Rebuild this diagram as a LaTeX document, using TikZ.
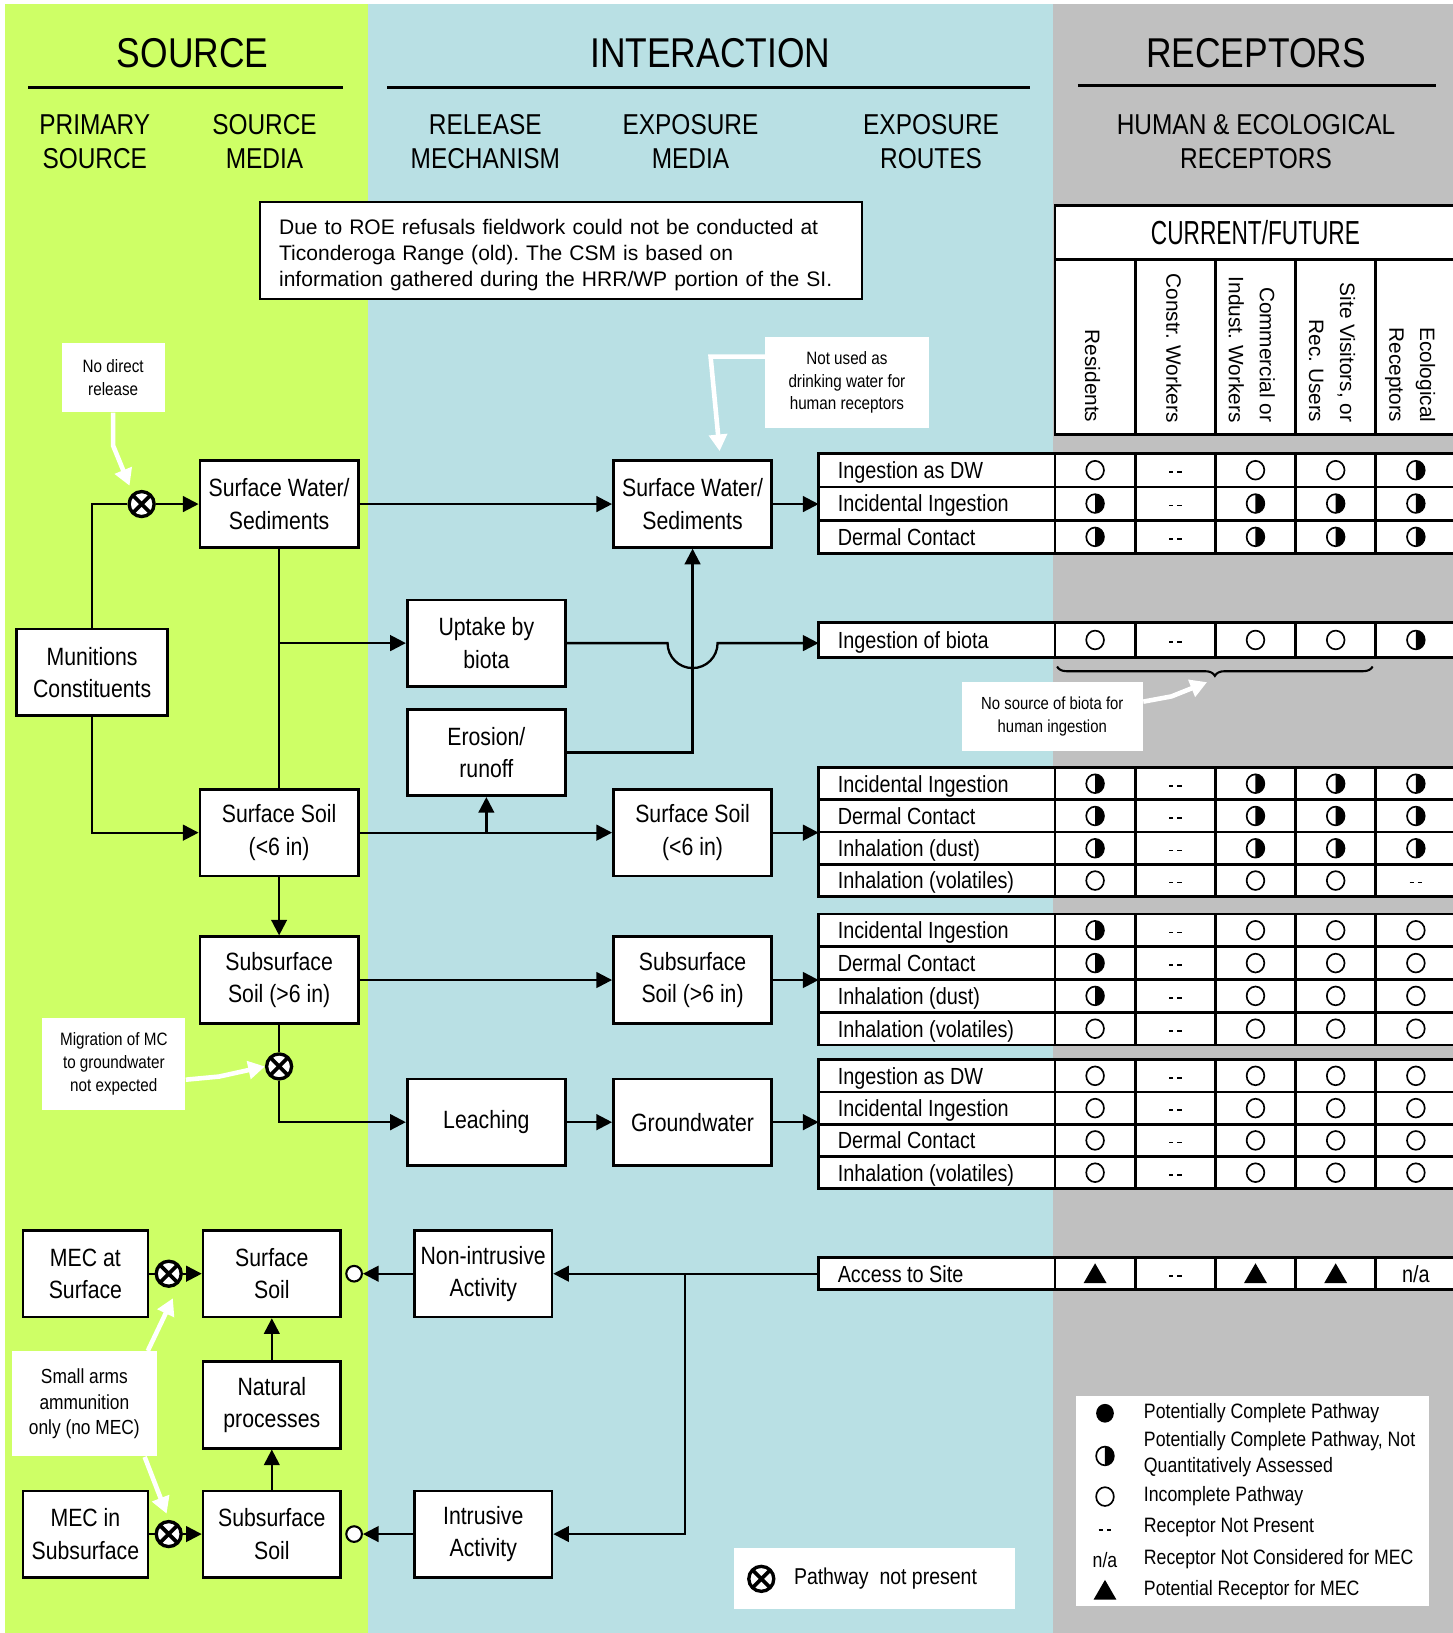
\documentclass[tikz,border=0pt]{standalone}
\usepackage{fontspec}
\setmainfont[FakeStretch=0.85]{Liberation Sans}
\newfontfamily\plainsans{Liberation Sans}
\newfontfamily\tightsans[FakeStretch=0.68]{Liberation Sans}
\usepackage{tikz}
\usetikzlibrary{arrows.meta, positioning, decorations.pathreplacing}
\frenchspacing

\definecolor{srcgreen}{RGB}{206,255,102}
\definecolor{intblue}{RGB}{185,224,228}
\definecolor{recgray}{RGB}{192,192,192}

\newcommand\fHead{\fontsize{20}{24}\selectfont}
\newcommand\fSub{\fontsize{13.8}{16.5}\selectfont}
\newcommand\fBox{\fontsize{12}{15.5}\selectfont}
\newcommand\fRow{\fontsize{11.2}{13}\selectfont}
\newcommand\fNote{\fontsize{8.6}{10.9}\selectfont}
\newcommand\fSmall{\fontsize{9.8}{12.2}\selectfont}
\newcommand\fLeg{\fontsize{10}{12.5}\selectfont}

% symbol in a receptor cell: o open, f full, h half, t triangle, n none, a n/a
\newcommand\cellsym[3]{%
  \if#3o\draw[line width=0.8pt] (#1,#2) ellipse [x radius=8.5, y radius=9];\fi
  \if#3f\fill (#1,#2) ellipse [x radius=8.5, y radius=9];\fi
  \if#3h\fill (#1,#2+9) arc [start angle=90, end angle=-90, x radius=8.5, y radius=9] -- cycle;
    \draw[line width=0.8pt] (#1,#2) ellipse [x radius=8.5, y radius=9];\fi
  \if#3t\fill (#1-11,#2+9) -- (#1+11,#2+9) -- (#1,#2-10) -- cycle;\fi
  \if#3n\draw[line width=0.8pt] (#1-6,#2+2) -- (#1-2,#2+2) (#1+2,#2+2) -- (#1+6,#2+2);\fi
  \if#3a\node[font=\fRow] (nacell) at (#1,#2) {n/a};\fi}

% one exposure route row: centre y, height, label, five receptors
\newcommand\routerow[8]{%
  \draw[tcell] (786,#1-#2/2) rectangle (1013,#1+#2/2);
  \node[routetxt] (rowlabel) at (804,#1+8) {#3};
  \foreach \v [count=\i] in {#4,#5,#6,#7,#8}{
    \draw[tcell] (936+77*\i,#1-#2/2) rectangle ++(77,#2);
    \cellsym{974.5+77*\i}{#1}{\v}
  }}

\begin{document}
\begin{tikzpicture}[x=0.5pt, y=-0.5pt,
    medbox/.style={draw, line width=1.3pt, fill=white, minimum width=76pt,
      minimum height=41.5pt, align=center, inner sep=1pt, font=\fBox},
    remark/.style={fill=white, align=center, inner sep=1pt, font=\fNote},
    xcirc/.style={circle, draw, line width=1.6pt, fill=white, minimum size=12pt,
      inner sep=0pt, path picture={
        \draw[line width=1.8pt] (path picture bounding box.north west) -- (path picture bounding box.south east)
          (path picture bounding box.north east) -- (path picture bounding box.south west);}},
    opc/.style={circle, draw, line width=1pt, fill=white, minimum size=7.5pt, inner sep=0pt},
    pipe/.style={line width=1.1pt},
    flow/.style={line width=1.1pt, -{Triangle[length=7.5pt,width=7.5pt]}},
    warr/.style={draw=white, line width=2.2pt, -{Triangle[length=8pt,width=8.5pt]}},
    tcell/.style={draw, line width=1.3pt, fill=white},
    routetxt/.style={anchor=base west, inner sep=0pt, font=\fRow},
    hline/.style={line width=1.3pt},
    colhead/.style={rotate=-90, anchor=east, inner sep=0pt, align=right,
      font=\plainsans\fontsize{10}{14.8}\selectfont},
    legtxt/.style={anchor=west, inner sep=0pt, font=\fLeg, align=left}]

    \useasboundingbox (0,0) rectangle (1395,1568);

    % bands
    \fill[srcgreen] (5,4) rectangle (353,1570);
    \fill[intblue] (353,4) rectangle (1011,1570);
    \fill[recgray] (1011,4) rectangle (1397,1570);

    % headings
    \node[font=\fHead] (hsrc) at (185,51) {SOURCE};
    \node[font=\fHead] (hint) at (682,51) {INTERACTION};
    \node[font=\fHead] (hrec) at (1206,51) {RECEPTORS};
    \draw[hline] (27,84) -- (329,84);
    \draw[hline] (372,84) -- (989,84);
    \draw[hline] (1035,82) -- (1379,82);
    \node[font=\fSub, align=center] (hprim) at (91,136) {PRIMARY\\SOURCE};
    \node[font=\fSub, align=center] (hmed) at (254,136) {SOURCE\\MEDIA};
    \node[font=\fSub, align=center] (hrel) at (466,136) {RELEASE\\MECHANISM};
    \node[font=\fSub, align=center] (hexm) at (663,136) {EXPOSURE\\MEDIA};
    \node[font=\fSub, align=center] (hexr) at (894,136) {EXPOSURE\\ROUTES};
    \node[font=\fSub, align=center] (hhum) at (1206,136) {HUMAN \& ECOLOGICAL\\RECEPTORS};

    % site note
    \node[draw, line width=1pt, fill=white, text width=271pt, inner xsep=9pt,
      minimum height=46.5pt, align=left, font=\plainsans\fontsize{10.1}{12.5}\selectfont]
      (roe) at (539,240.5) {\rule{0pt}{11.5pt}Due to ROE refusals fieldwork could not be conducted at\\
      Ticonderoga Range (old). The CSM is based on\\
      information gathered during the HRR/WP portion of the SI.};

    % receptor table head
    \node[draw, line width=1.3pt, fill=white, minimum width=192.5pt, minimum height=26pt,
      font=\tightsans\fontsize{16}{18}\selectfont] (cf) at (1205.5,223) {CURRENT/FUTURE};
    \draw[tcell] (1013,249) rectangle (1398,417);
    \foreach \cx in {1090,1167,1244,1321}
      \draw[hline] (\cx,249) -- (\cx,417);
    \node[colhead] (cres) at (1049,406) {Residents};
    \node[colhead] (ccon) at (1127,406) {Constr. Workers};
    \node[colhead] (ccom) at (1202,406) {Commercial or\\Indust. Workers};
    \node[colhead] (csit) at (1279,406) {Site Visitors, or\\Rec. Users};
    \node[colhead] (ceco) at (1354,406) {Ecological\\Receptors};

    % primary source and source media
    \node[medbox, minimum width=72.5pt] (mc) at (88.5,645.5) {Munitions\\Constituents};
    \node[medbox] (sws1) at (268,484) {Surface Water/\\Sediments};
    \node[medbox] (ss1) at (268,799.5) {Surface Soil\\(<6 in)};
    \node[medbox] (subs1) at (268,941) {Subsurface\\Soil (>6 in)};
    \node[xcirc] (x1) at (136,484) {};
    \node[xcirc] (x2) at (268,1024) {};

    % release mechanisms
    \node[medbox] (uptake) at (467,617.5) {Uptake by\\biota};
    \node[medbox] (erosion) at (467,722.5) {Erosion/\\runoff};
    \node[medbox] (leach) at (467,1077.5) {Leaching};

    % exposure media
    \node[medbox] (sws2) at (665,484) {Surface Water/\\Sediments};
    \node[medbox] (ss2) at (665,799.5) {Surface Soil\\(<6 in)};
    \node[medbox] (subs2) at (665,941) {Subsurface\\Soil (>6 in)};
    \node[medbox] (gw) at (665,1077.5) {Groundwater};

    % MEC part
    \node[medbox, minimum width=60pt] (mecs) at (82,1223) {MEC at\\Surface};
    \node[xcirc] (x3) at (162,1223) {};
    \node[medbox, minimum width=66pt] (ss3) at (261,1223) {Surface\\Soil};
    \node[medbox, minimum width=66pt] (nat) at (261,1349) {Natural\\processes};
    \node[medbox, minimum width=60pt] (mecsub) at (82,1473) {MEC in\\Subsurface};
    \node[xcirc] (x4) at (162,1473) {};
    \node[medbox, minimum width=66pt] (subs3) at (261,1473) {Subsurface\\Soil};
    \node[opc] (oc1) at (340,1223) {};
    \node[opc] (oc2) at (340,1473) {};
    \node[medbox, minimum width=66pt] (nonint) at (464,1223) {Non-intrusive\\Activity};
    \node[medbox, minimum width=66pt] (intr) at (464,1473) {Intrusive\\Activity};

    % route entries
    \coordinate (swin) at (786,484);
    \coordinate (biotain) at (786,617.5);
    \coordinate (ssin) at (786,799.5);
    \coordinate (subin) at (786,941);
    \coordinate (gwin) at (786,1077.5);
    \coordinate (accessin) at (786,1223);
    \coordinate (split) at (658,1223);
    \coordinate (bracetip) at (1159,655);

    % routes and receptors
    \routerow{451.5}{32}{Ingestion as DW}{o}{n}{o}{o}{h}
    \routerow{483.5}{32}{Incidental Ingestion}{h}{n}{h}{h}{h}
    \routerow{515.5}{32}{Dermal Contact}{h}{n}{h}{h}{h}
    \routerow{614.5}{33}{Ingestion of biota}{o}{n}{o}{o}{h}
    \routerow{752.5}{31}{Incidental Ingestion}{h}{n}{h}{h}{h}
    \routerow{783.5}{31}{Dermal Contact}{h}{n}{h}{h}{h}
    \routerow{814.5}{31}{Inhalation (dust)}{h}{n}{h}{h}{h}
    \routerow{845.5}{31}{Inhalation (volatiles)}{o}{n}{o}{o}{n}
    \routerow{893.25}{31.5}{Incidental Ingestion}{h}{n}{o}{o}{o}
    \routerow{924.75}{31.5}{Dermal Contact}{h}{n}{o}{o}{o}
    \routerow{956.25}{31.5}{Inhalation (dust)}{h}{n}{o}{o}{o}
    \routerow{987.75}{31.5}{Inhalation (volatiles)}{o}{n}{o}{o}{o}
    \routerow{1033}{31}{Ingestion as DW}{o}{n}{o}{o}{o}
    \routerow{1064}{31}{Incidental Ingestion}{o}{n}{o}{o}{o}
    \routerow{1095}{31}{Dermal Contact}{o}{n}{o}{o}{o}
    \routerow{1126}{31}{Inhalation (volatiles)}{o}{n}{o}{o}{o}
    \routerow{1223}{30.5}{Access to Site}{t}{n}{t}{t}{a}

    % brace under biota row
    \draw[line width=1pt, decorate, decoration={brace, mirror, amplitude=4.5pt}] (1015,640) -- (1318,640);

    % source to media
    \draw[pipe] (mc.north) |- (x1.west);
    \draw[flow] (x1.east) -- (sws1.west);
    \draw[flow] (mc.south) |- (ss1.west);
    \draw[pipe] (sws1.south) -- (ss1.north);
    \draw[flow] (sws1.south |- uptake.west) -- (uptake.west);
    \draw[flow] (ss1.south) -- (subs1.north);
    \draw[pipe] (subs1.south) -- (x2.north);
    \draw[flow] (x2.south) |- (leach.west);

    % media to exposure media
    \draw[flow] (sws1.east) -- (sws2.west);
    \draw[flow] (ss1.east) -- (ss2.west);
    \draw[flow] (erosion.south |- ss1.east) -- (erosion.south);
    \draw[flow] (erosion.east) -| (sws2.south);
    \draw[flow] (subs1.east) -- (subs2.west);
    \draw[flow] (leach.east) -- (gw.west);
    \draw[flow] (uptake.east) -- ([xshift=-12pt]sws2.south |- uptake.east)
      arc [start angle=180, end angle=0, radius=24] -- (biotain);

    % exposure media to routes
    \draw[flow] (sws2.east) -- (swin);
    \draw[flow] (ss2.east) -- (ssin);
    \draw[flow] (subs2.east) -- (subin);
    \draw[flow] (gw.east) -- (gwin);

    % MEC links
    \draw[pipe] (mecs.east) -- (x3.west);
    \draw[flow] (x3.east) -- (ss3.west);
    \draw[pipe] (mecsub.east) -- (x4.west);
    \draw[flow] (x4.east) -- (subs3.west);
    \draw[flow] (subs3.north) -- (nat.south);
    \draw[flow] (nat.north) -- (ss3.south);
    \draw[flow] (nonint.west) -- (oc1.east);
    \draw[flow] (intr.west) -- (oc2.east);
    \draw[flow] (accessin) -- (nonint.east);
    \draw[flow] (split) |- (intr.east);

    % remarks
    \node[remark, minimum width=49.5pt, minimum height=33pt] (nodir) at (108.7,362.7) {No direct\\release};
    \node[remark, minimum width=78.5pt, minimum height=44pt] (notused) at (813.2,367.4) {Not used as\\drinking water for\\human receptors};
    \node[remark, minimum width=68.7pt, minimum height=44pt] (migr) at (109.3,1021.7) {Migration of MC\\to groundwater\\not expected};
    \node[remark, minimum width=69.5pt, minimum height=50.5pt, font=\fSmall] (smallarms) at (81,1348) {Small arms\\ammunition\\only (no MEC)};
    \node[remark, minimum width=87pt, minimum height=33.3pt, font=\fontsize{8.4}{10.9}\selectfont] (nobiota) at (1010.4,687.7) {No source of biota for\\human ingestion};
    \draw[warr] (nodir.south) -- ++(0,32) -- ([shift={(-1pt,4pt)}]x1.north west);
    \draw[warr] ([yshift=12.5pt]notused.west) -- ++(-52,0) -- ([xshift=13pt, yshift=4pt]sws2.north);
    \draw[warr] ([yshift=-7.5pt]migr.east) -- ++(32,-3) -- (x2.west);
    \draw[warr] ([xshift=-4.5pt]smallarms.north east) -- ([shift={(2pt,-5pt)}]x3.south);
    \draw[warr] ([xshift=-6pt]smallarms.south east) -- ([shift={(-1pt,3pt)}]x4.north);
    \draw[warr] ([yshift=7pt]nobiota.east) -- ++(27,-5) -- (bracetip);

    % legends
    \node[fill=white, minimum width=135pt, minimum height=29.5pt, inner sep=0pt] (pnpbox) at (840,1515.5) {};
    \node[xcirc] (xleg) at (731,1516) {};
    \node[anchor=west, inner sep=0pt, font=\fontsize{11}{13}\selectfont] (pnp) at (762,1516) {Pathway~ not present};

    \node[fill=white, minimum width=169.5pt, minimum height=100.6pt, inner sep=0pt] (legbox) at (1203,1441) {};
    \cellsym{1061}{1357}{f}
    \node[legtxt] (l1) at (1098,1357) {Potentially Complete Pathway};
    \cellsym{1061}{1398}{h}
    \node[legtxt] (l2) at (1098,1396.5) {Potentially Complete Pathway, Not\\Quantitatively Assessed};
    \cellsym{1061}{1437}{o}
    \node[legtxt] (l3) at (1098,1437) {Incomplete Pathway};
    \cellsym{1061}{1467}{n}
    \node[legtxt] (l4) at (1098,1467) {Receptor Not Present};
    \node[font=\fLeg] (lna) at (1061,1497.5) {n/a};
    \node[legtxt] (l5) at (1098,1497.5) {Receptor Not Considered for MEC};
    \cellsym{1061}{1527}{t}
    \node[legtxt] (l6) at (1098,1527) {Potential Receptor for MEC};
\end{tikzpicture}
\end{document}
